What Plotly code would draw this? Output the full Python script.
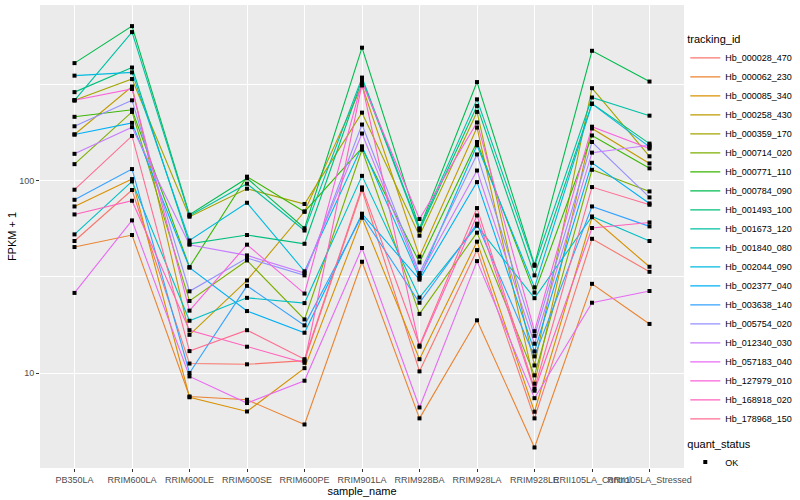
import plotly.graph_objects as go

samples = ["PB350LA", "RRIM600LA", "RRIM600LE", "RRIM600SE", "RRIM600PE", "RRIM901LA",
           "RRIM928BA", "RRIM928LA", "RRIM928LE", "RRII105LA_Control", "RRII105LA_Stressed"]

tracking_ids = ["Hb_000028_470", "Hb_000062_230", "Hb_000085_340", "Hb_000258_430", "Hb_000359_170",
                "Hb_000714_020", "Hb_000771_110", "Hb_000784_090", "Hb_001493_100", "Hb_001673_120",
                "Hb_001840_080", "Hb_002044_090", "Hb_002377_040", "Hb_003638_140", "Hb_005754_020",
                "Hb_012340_030", "Hb_057183_040", "Hb_127979_010", "Hb_168918_020", "Hb_178968_150"]

colors = ["#F8766D", "#EA8331", "#D89000", "#C09B00", "#A3A500", "#7CAE00", "#39B600", "#00BB4E",
          "#00BF7D", "#00C1A3", "#00BFC4", "#00BAE0", "#00B0F6", "#35A2FF", "#9590FF", "#C77CFF",
          "#E76BF3", "#FA62DB", "#FF62BC", "#FF6C91"]

# FPKM + 1 per sample (order of `samples`)
Hb_000028_470 = [48.6, 89.5, 11.2, 11.1, 11.6, 89.8, 10.2, 43.6, 5.81, 49.9, 33.6]
Hb_000062_230 = [45.2, 52.2, 7.55, 7.26, 5.40, 37.9, 5.81, 18.8, 4.10, 29.1, 18.0]
Hb_000085_340 = [73.5, 102, 7.48, 6.31, 10.6, 64.2, 11.8, 48.2, 6.29, 64.6, 35.7]
Hb_000258_430 = [174, 309, 15.8, 30.3, 69.2, 313, 40.3, 189, 8.80, 187, 123]
Hb_000359_170 = [262, 338, 65.0, 90.9, 75.7, 226, 51.8, 228, 10.95, 303, 134]
Hb_000714_020 = [122, 228, 23.7, 38.5, 19.0, 145, 20.3, 53.7, 9.72, 114, 88.0]
Hb_000771_110 = [215, 234, 35.6, 105, 69.0, 148, 37.6, 159, 26.2, 172, 116]
Hb_000784_090 = [409, 637, 66.6, 103, 56.6, 492, 56.5, 326, 36.6, 474, 328]
Hb_001493_100 = [289, 388, 47.0, 52.2, 47.0, 335, 55.1, 245, 32.2, 252, 156]
Hb_001673_120 = [262, 593, 65.8, 96.5, 55.1, 344, 56.1, 265, 36.1, 271, 218]
Hb_001840_080 = [52.6, 99.2, 18.7, 24.6, 23.1, 106, 24.7, 58.3, 24.5, 65.2, 48.6]
Hb_002044_090 = [352, 366, 48.9, 76.8, 33.8, 151, 31.2, 153, 27.9, 251, 150]
Hb_002377_040 = [174, 200, 35.3, 21.0, 16.2, 67.4, 30.6, 98.4, 12.95, 124, 76.2]
Hb_003638_140 = [79.6, 115, 10.0, 28.4, 17.7, 65.8, 23.2, 59.8, 12.2, 73.5, 57.9]
Hb_005754_020 = [192, 262, 26.6, 39.6, 32.2, 196, 33.1, 137, 15.6, 159, 81.9]
Hb_012340_030 = [138, 190, 46.5, 40.9, 33.1, 176, 32.1, 113, 14.2, 140, 153]
Hb_057183_040 = [26.1, 62.2, 9.60, 6.98, 9.12, 44.7, 6.62, 38.2, 7.40, 23.2, 26.7]
Hb_127979_010 = [262, 300, 21.1, 46.5, 25.9, 326, 63.2, 201, 16.5, 191, 147]
Hb_168918_020 = [66.8, 78.7, 16.7, 13.7, 11.3, 318, 13.7, 66.0, 8.09, 56.8, 60.7]
Hb_178968_150 = [89.8, 171, 13.0, 16.7, 11.8, 92.3, 13.9, 72.1, 8.29, 92.7, 75.0]

series = [Hb_000028_470, Hb_000062_230, Hb_000085_340, Hb_000258_430, Hb_000359_170,
          Hb_000714_020, Hb_000771_110, Hb_000784_090, Hb_001493_100, Hb_001673_120,
          Hb_001840_080, Hb_002044_090, Hb_002377_040, Hb_003638_140, Hb_005754_020,
          Hb_012340_030, Hb_057183_040, Hb_127979_010, Hb_168918_020, Hb_178968_150]

y_ticks = [10, 100]
y_minor = [3.162, 31.62, 316.2]

FONT = "Liberation Sans, Arial, sans-serif"

fig = go.Figure()
for name, col, vals in zip(tracking_ids, colors, series):
    fig.add_trace(go.Scatter(x=samples, y=vals, mode="lines", name=name,
                             line=dict(color=col, width=1.1), legend="legend"))

all_x, all_y = [], []
for vals in series:
    all_x += samples
    all_y += vals
fig.add_trace(go.Scatter(x=all_x, y=all_y, mode="markers", name="OK",
                         marker=dict(symbol="square", size=4, color="black"),
                         legend="legend2"))

fig.update_layout(
    width=800, height=500,
    margin=dict(l=40, r=116, t=5, b=32, autoexpand=False),
    paper_bgcolor="white", plot_bgcolor="#EBEBEB",
    font=dict(family=FONT, size=9, color="#000000"),
    xaxis=dict(type="category", categoryorder="array", categoryarray=samples,
               range=[-0.6, 10.6], showgrid=True, gridcolor="white", gridwidth=1.1,
               zeroline=False, showline=False, ticks="outside", ticklen=3,
               tickcolor="#333333", tickwidth=1, tickangle=0,
               tickfont=dict(size=9, color="#4D4D4D"),
               title=dict(text="sample_name", font=dict(size=11, color="black"), standoff=2),
               automargin=False),
    yaxis=dict(type="log", range=[0.506, 2.914], tickmode="array", tickvals=y_ticks,
               ticktext=[str(v) for v in y_ticks], showgrid=True, gridcolor="white",
               gridwidth=1.1, zeroline=False, showline=False, ticks="outside", ticklen=3,
               tickcolor="#333333", tickwidth=1, tickfont=dict(size=9, color="#4D4D4D"),
               minor=dict(tickmode="array", tickvals=y_minor, showgrid=True,
                          gridcolor="white", gridwidth=0.5, ticks=""),
               title=dict(text="FPKM + 1", font=dict(size=11, color="black"), standoff=0),
               automargin=False),
    legend=dict(title=dict(text="tracking_id", font=dict(size=11)), x=1.002, y=0.948,
                xanchor="left", yanchor="top", font=dict(size=9), bgcolor="rgba(0,0,0,0)",
                itemwidth=30, tracegroupgap=0),
    legend2=dict(title=dict(text="quant_status", font=dict(size=11)), x=1.002, y=0.075,
                 xanchor="left", yanchor="top", font=dict(size=9), bgcolor="rgba(0,0,0,0)",
                 itemwidth=30),
    showlegend=True,
)

fig.write_html("out.html", config={"displayModeBar": False},
               post_script="document.body.style.margin='0px';document.body.style.padding='0px';"
                           "window.dispatchEvent(new Event('resize'));")
